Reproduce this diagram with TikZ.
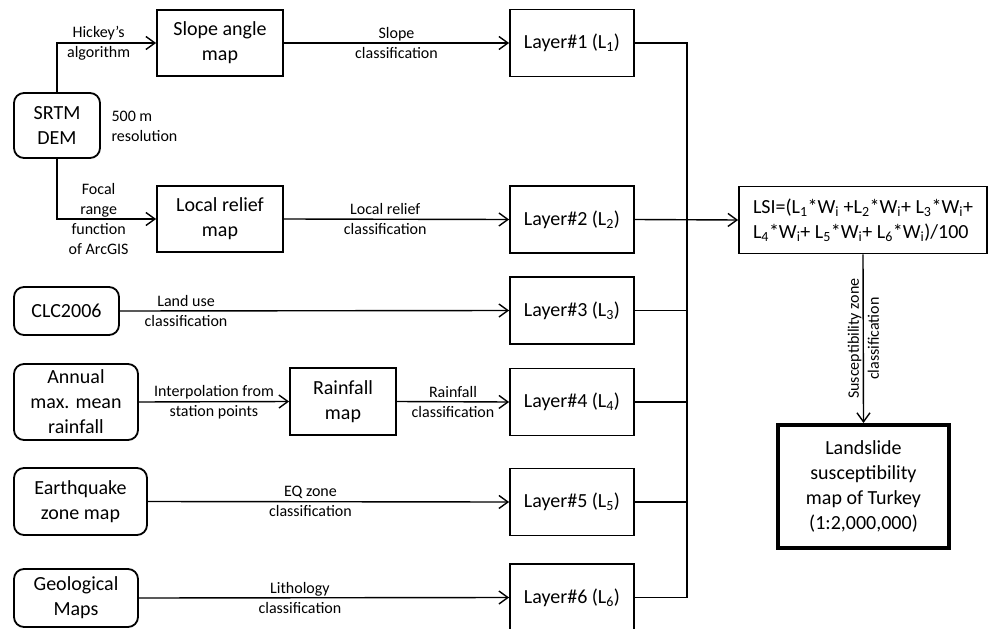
\documentclass[tikz,border=0pt]{standalone}
\usepackage{fontspec}
\setmainfont{Carlito}
\usetikzlibrary{arrows.meta}

\begin{document}
\begin{tikzpicture}[x=1pt, y=-1pt,
    box/.style={draw, line width=1.8pt, align=center, inner sep=2pt, font=\fontsize{20}{25}\selectfont},
    src/.style={box, rounded corners=10pt},
    layer/.style={box, minimum width=124pt, minimum height=67pt},
    lbl/.style={align=center, font=\fontsize{16}{20}\selectfont},
    arr/.style={line width=1.4pt, -{Straight Barb[length=9pt, width=13pt, line width=1.4pt]}},
    wire/.style={line width=1.4pt}]
          \clip (0, 0) rectangle (989, 629);
          \node[src, minimum width=86pt, minimum height=65pt] (srtm) at (57, 125.5) {SRTM\\DEM};
          \node[lbl, align=left, anchor=west] (res) at (108, 126) {500 m\\resolution};
          \node[box, minimum width=126pt, minimum height=66pt] (slope) at (220, 43) {Slope angle\\map};
          \node[box, minimum width=126pt, minimum height=66pt] (relief) at (220, 219) {Local relief\\map};
          \node[src, minimum width=105pt, minimum height=48pt] (clc) at (66.5, 311) {CLC2006};
          \node[src, minimum width=124pt, minimum height=76pt] (annual) at (76, 402) {Annual\\max. mean\\rainfall};
          \node[box, minimum width=106pt, minimum height=67pt] (rain) at (343, 401.5) {Rainfall\\map};
          \node[src, minimum width=133pt, minimum height=67pt] (eq) at (80.5, 501.5) {Earthquake\\zone map};
          \node[src, minimum width=124pt, minimum height=58pt] (geo) at (76, 598) {Geological\\Maps};
          \node[layer] (l1) at (572, 43) {Layer\#1 (L\textsubscript{1})};
          \node[layer] (l2) at (572, 219.5) {Layer\#2 (L\textsubscript{2})};
          \node[layer] (l3) at (572, 310.5) {Layer\#3 (L\textsubscript{3})};
          \node[layer] (l4) at (572, 402) {Layer\#4 (L\textsubscript{4})};
          \node[layer] (l5) at (572, 502) {Layer\#5 (L\textsubscript{5})};
          \node[layer] (l6) at (572, 597.5) {Layer\#6 (L\textsubscript{6})};
          \node[box, align=left, minimum width=248pt, minimum height=66pt, inner sep=12pt] (lsi) at (863, 220)
            {LSI=(L\textsubscript{1}*W\textsubscript{i} +L\textsubscript{2}*W\textsubscript{i}+ L\textsubscript{3}*W\textsubscript{i}+\\L\textsubscript{4}*W\textsubscript{i}+ L\textsubscript{5}*W\textsubscript{i}+ L\textsubscript{6}*W\textsubscript{i})/100};
          \node[box, line width=4pt, minimum width=171pt, minimum height=123pt] (lsm) at (863.5, 486.5)
            {Landslide\\susceptibility\\map of Turkey\\(1:2,000,000)};

          \draw[arr] (srtm.north) |- (slope.west) node[lbl, pos=0.71]{Hickey's\\algorithm};
          \draw[arr] (srtm.south) |- (relief.west) node[lbl, pos=0.71]{Focal\\range\\function\\of ArcGIS};
          \draw[arr] (slope.east) -- (l1.west) node[lbl, midway]{Slope\\classification};
          \draw[arr] (relief.east) -- (l2.west) node[lbl, pos=0.45]{Local relief\\classification};
          \draw[arr] (clc.east) -- (l3.west) node[lbl, pos=0.17]{Land use\\classification};
          \draw[arr] (annual.east) -- (rain.west) node[lbl, midway]{Interpolation from\\station points};
          \draw[arr] (rain.east) -- (l4.west) node[lbl, midway]{Rainfall\\classification};
          \draw[arr] (eq.east) -- (l5.west) node[lbl, pos=0.45]{EQ zone\\classification};
          \draw[arr] (geo.east) -- (l6.west) node[lbl, pos=0.435]{Lithology\\classification};

          \coordinate (bustop) at (687, 43);
          \coordinate (busbot) at (687, 597.5);
          \draw[wire] (l1.east) -- (bustop) -- (busbot) -- (l6.east);
          \draw[wire] (l3.east) -- (l3.east -| bustop);
          \draw[wire] (l4.east) -- (l4.east -| bustop);
          \draw[wire] (l5.east) -- (l5.east -| bustop);
          \draw[arr] (l2.east) -- (lsi.west);
          \draw[arr] (lsi.south) -- (lsm.north) node[lbl, midway, rotate=90]{Susceptibility zone\\classification};
        \end{tikzpicture}
\end{document}
